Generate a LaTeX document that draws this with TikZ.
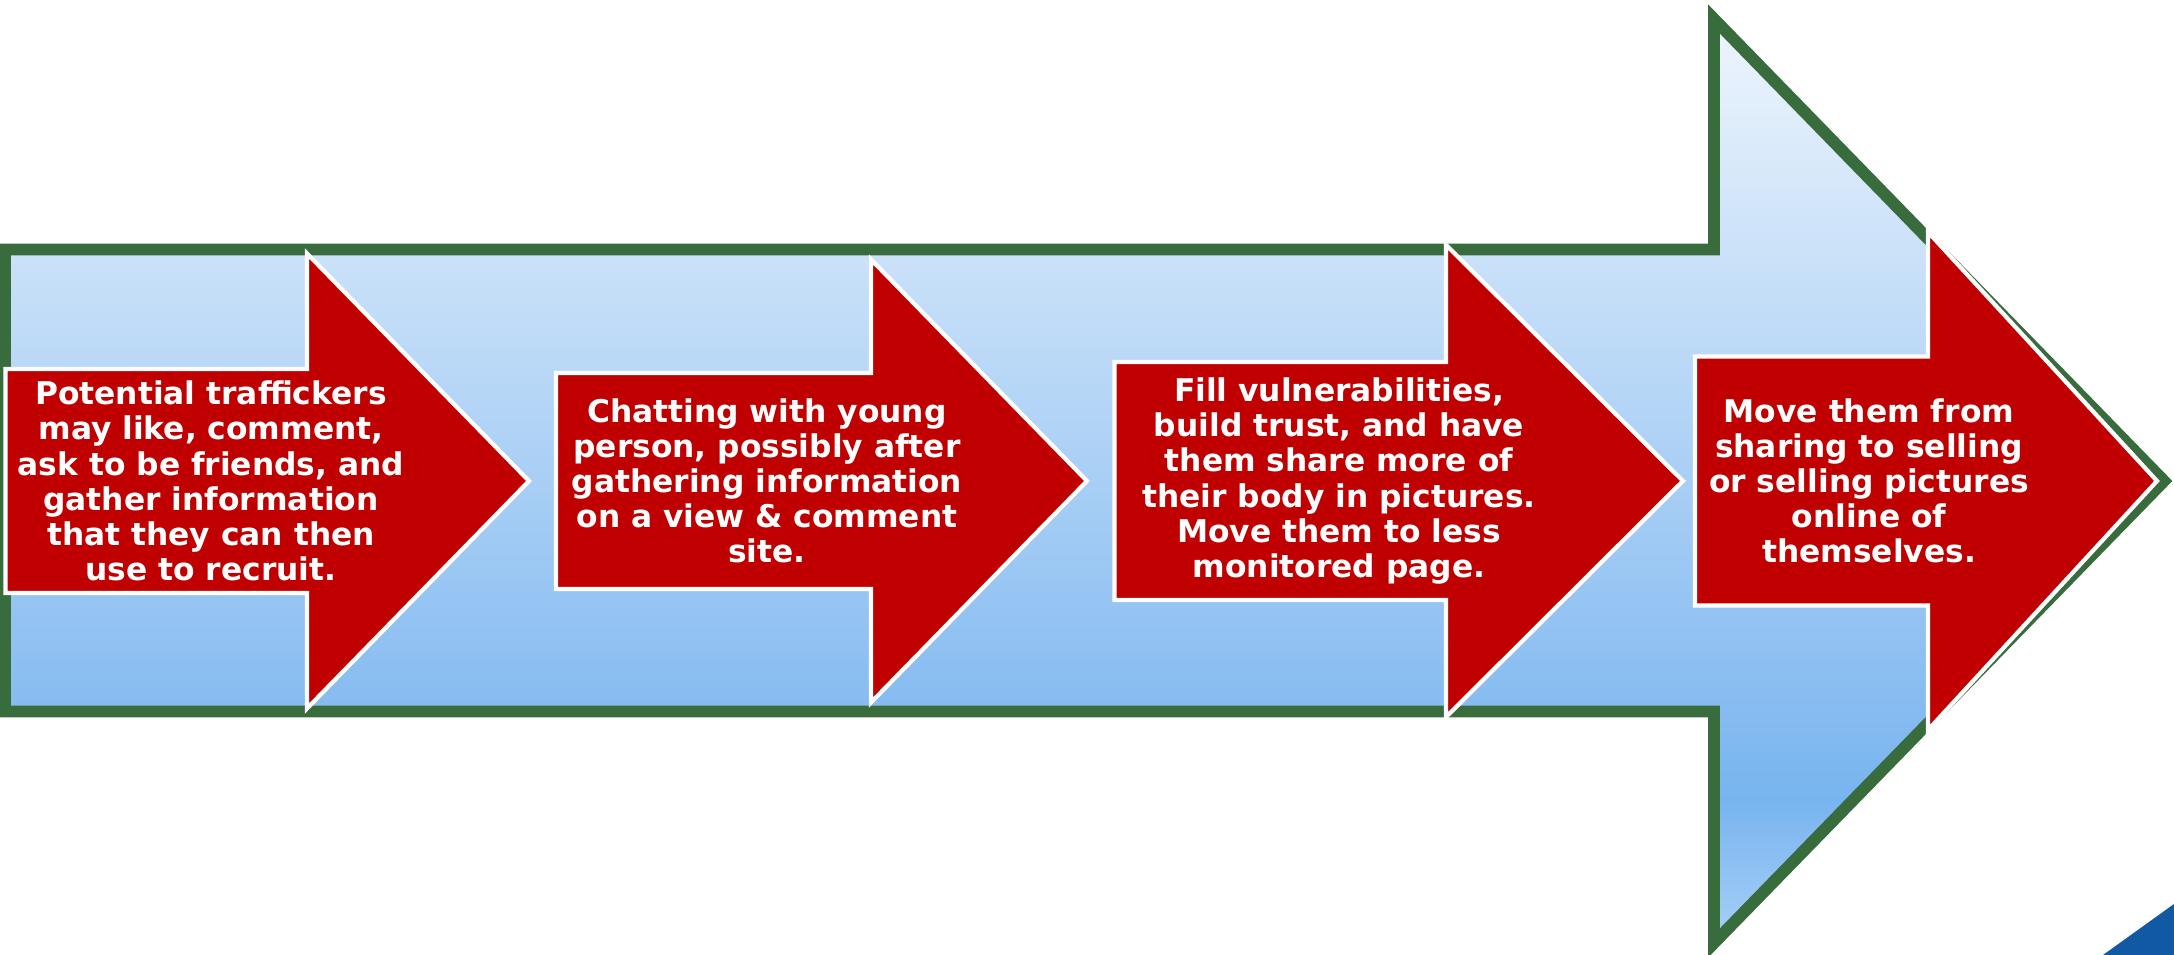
\documentclass[tikz,border=0pt]{standalone}
\usepackage{fontspec}
\setmainfont{DejaVu Sans}

\definecolor{arrowgreen}{RGB}{56,108,60}
\definecolor{arrowred}{RGB}{192,0,0}
\definecolor{cornerblue}{RGB}{18,89,164}
\definecolor{bgtop}{RGB}{238,245,253}
\definecolor{bgmid}{RGB}{120,180,239}
\definecolor{bgbot}{RGB}{168,208,246}
\pgfdeclareverticalshading{bigarrowfill}{100bp}{color(0bp)=(bgbot); color(25bp)=(bgbot); color(32.7bp)=(bgmid); color(75bp)=(bgtop); color(100bp)=(bgtop)}

\tikzset{
  bigarrow/.style={shade, shading=bigarrowfill, draw=arrowgreen, line width=3.4pt, line join=miter},
  redarrow/.style={fill=arrowred, draw=white, line width=1.2pt, line join=miter},
  steptext/.style={text=white, align=center, inner sep=0pt,
    font=\fontsize{8.9pt}{10pt}\selectfont\bfseries}
}

\begin{document}
\begin{tikzpicture}[x=0.01cm, y=-0.01cm]
      \useasboundingbox (0,0) rectangle (2174,955);

      % background arrow
      \path[bigarrow] (5,249.5) -- (1714,249.5) -- (1714,19) -- (2164,481)
        -- (1714,943) -- (1714,711.5) -- (5,711.5) -- cycle;

      % the four steps
      \path[redarrow] (5.5,369) -- (307,369) -- (307,253.5) -- (529,481)
        -- (307,708.5) -- (307,593) -- (5.5,593) -- cycle;
      \path[redarrow] (556,373) -- (871,373) -- (871,259.5) -- (1087,481)
        -- (871,702.5) -- (871,589) -- (556,589) -- cycle;
      \path[redarrow] (1114.5,362) -- (1446,362) -- (1446,245) -- (1683,481)
        -- (1446,717) -- (1446,600) -- (1114.5,600) -- cycle;
      \path[redarrow] (1695,356.5) -- (1928,356.5) -- (1928,232) -- (2157,481)
        -- (1928,730) -- (1928,605.5) -- (1695,605.5) -- cycle;

      \node[steptext] (recruit) at (211,481) {Potential traffickers\\may like, comment,\\ask to be friends, and\\gather information\\that they can then\\use to recruit.};
      \node[steptext] (chat) at (767,481) {Chatting with young\\person, possibly after\\gathering information\\on a view \& comment\\site.};
      \node[steptext] (trust) at (1339,481) {Fill vulnerabilities,\\build trust, and have\\them share more of\\their body in pictures.\\Move them to less\\monitored page.};
      \node[steptext] (sell) at (1869,481) {Move them from\\sharing to selling\\or selling pictures\\online of\\themselves.};

      % corner piece
      \fill[cornerblue] (2103,955) -- (2174,904) -- (2174,955) -- cycle;
    \end{tikzpicture}
\end{document}
